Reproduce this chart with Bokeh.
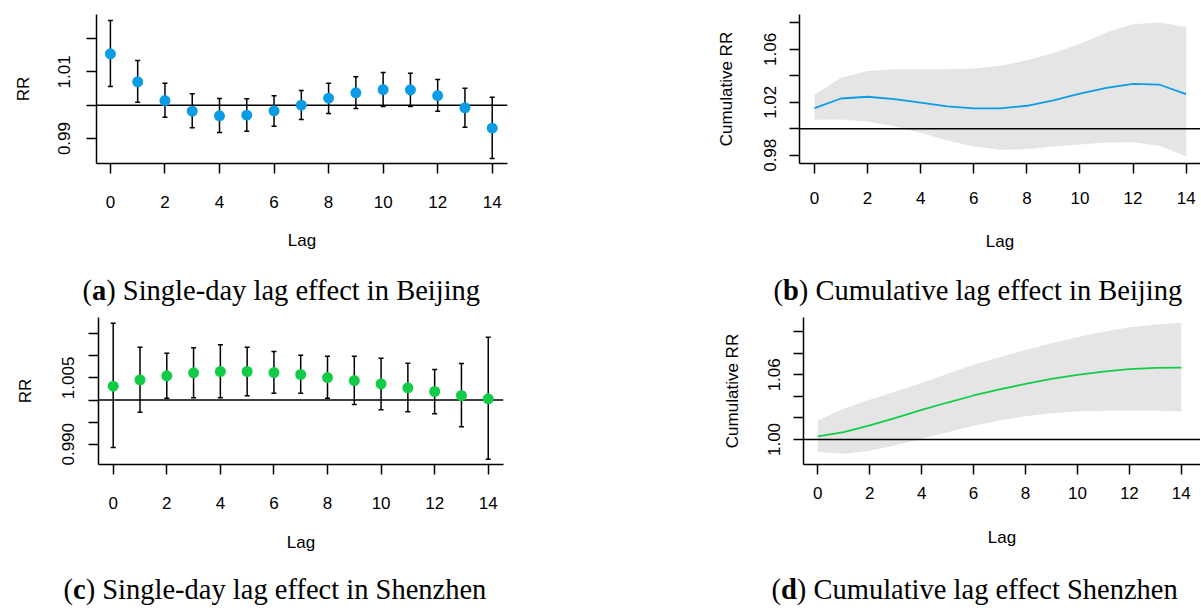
from bokeh.plotting import figure
from bokeh.models import (Span, Whisker, TeeHead, ColumnDataSource, FixedTicker,
                          Label, Range1d, CustomJSTickFormatter)
from bokeh.layouts import column, row
from bokeh.embed import file_html
from bokeh.resources import INLINE

# ---------------- data ----------------
lags = [0, 1, 2, 3, 4, 5, 6, 7, 8, 9, 10, 11, 12, 13, 14]

# (a) single-day lag effect, Beijing
bj_single_rr = [1.0154, 1.0070, 1.0014, 0.9982, 0.9968, 0.9970, 0.9983, 1.0000,
                1.0021, 1.0037, 1.0047, 1.0046, 1.0029, 0.9992, 0.9931]
bj_single_lo = [1.0056, 1.0009, 0.9964, 0.9932, 0.9918, 0.9922, 0.9937, 0.9957,
                0.9975, 0.9990, 0.9996, 0.9996, 0.9982, 0.9934, 0.9840]
bj_single_hi = [1.0254, 1.0134, 1.0066, 1.0034, 1.0020, 1.0019, 1.0028, 1.0044,
                1.0066, 1.0085, 1.0098, 1.0096, 1.0077, 1.0051, 1.0024]

# (b) cumulative lag effect, Beijing
bj_cum_rr = [1.0156, 1.0229, 1.0242, 1.0224, 1.0197, 1.0169, 1.0154, 1.0154,
             1.0174, 1.0214, 1.0265, 1.0310, 1.0340, 1.0333, 1.0262]
bj_cum_lo = [1.0068, 1.0071, 1.0055, 1.0020, 0.9970, 0.9912, 0.9866, 0.9841,
             0.9846, 0.9866, 0.9882, 0.9897, 0.9899, 0.9871, 0.9793]
bj_cum_hi = [1.0257, 1.0386, 1.0436, 1.0449, 1.0449, 1.0449, 1.0456, 1.0476,
             1.0517, 1.0572, 1.0643, 1.0728, 1.0789, 1.0804, 1.0769]

# (c) single-day lag effect, Shenzhen
sz_single_rr = [1.00312, 1.00456, 1.00546, 1.00614, 1.00644, 1.00644, 1.00621, 1.00576,
                1.00508, 1.00440, 1.00365, 1.00275, 1.00192, 1.00102, 1.00026]
sz_single_lo = [0.98927, 0.99725, 1.00041, 1.00049, 1.00049, 1.00094, 1.00154, 1.00154,
                1.00041, 0.99898, 0.99778, 0.99733, 0.99688, 0.99394, 0.98663]
sz_single_hi = [1.01736, 1.01194, 1.01058, 1.01179, 1.01246, 1.01194, 1.01096, 1.01013,
                1.00990, 1.00990, 1.00945, 1.00832, 1.00689, 1.00825, 1.01420]

# (d) cumulative lag effect, Shenzhen
sz_cum_rr = [1.0028, 1.0068, 1.0130, 1.0201, 1.0275, 1.0343, 1.0408, 1.0464,
             1.0516, 1.0562, 1.0599, 1.0630, 1.0652, 1.0664, 1.0667]
sz_cum_lo = [0.9883, 0.9867, 0.9895, 0.9947, 1.0006, 1.0068, 1.0127, 1.0176,
             1.0216, 1.0244, 1.0260, 1.0266, 1.0269, 1.0269, 1.0260]
sz_cum_hi = [1.0176, 1.0284, 1.0368, 1.0445, 1.0525, 1.0609, 1.0692, 1.0763,
             1.0831, 1.0893, 1.0949, 1.0998, 1.1041, 1.1066, 1.1082]

# ticks
x_ticks = [0, 2, 4, 6, 8, 10, 12, 14]
a_yticks = [0.99, 1.00, 1.01, 1.02]
a_ylabels = ["0.99", "", "1.01", ""]
b_yticks = [0.98, 1.00, 1.02, 1.04, 1.06, 1.08]
b_ylabels = ["0.98", "", "1.02", "", "1.06", ""]
c_yticks = [0.990, 0.995, 1.000, 1.005, 1.010, 1.015]
c_ylabels = ["0.990", "", "", "1.005", "", ""]
d_yticks = [1.00, 1.02, 1.04, 1.06, 1.08, 1.10]
d_ylabels = ["1.00", "", "", "1.06", "", ""]

captions = [("a", ") Single-day lag effect in Beijing"),
            ("b", ") Cumulative lag effect in Beijing"),
            ("c", ") Single-day lag effect in Shenzhen"),
            ("d", ") Cumulative lag effect Shenzhen")]

# ---------------- style ----------------
BLUE = "#0B9CE5"
GREEN = "#12CC48"
BAND = "#E5E5E5"
SANS = "Liberation Sans"
SERIF = "Liberation Serif"
FS = "17px"
CAP_FS = 28.5


def make_fig(w, h, borders, xr, yr, yticks, ylabels, ylabel,
             ystand, ylab_stand, xstand, xlab_stand):
    l, r, t, b = borders
    p = figure(width=w, height=h, output_backend="svg", toolbar_location=None,
               title=None,
               x_range=Range1d(*xr), y_range=Range1d(*yr),
               min_border_left=l, min_border_right=r, min_border_top=t,
               min_border_bottom=b)
    p.outline_line_color = None
    p.xgrid.visible = False
    p.ygrid.visible = False
    p.background_fill_color = "white"
    p.border_fill_color = "white"
    p.xaxis.ticker = FixedTicker(ticks=x_ticks)
    p.yaxis.ticker = FixedTicker(ticks=yticks)
    p.yaxis.formatter = CustomJSTickFormatter(
        args=dict(vals=yticks, labs=ylabels),
        code="""
        for (let i = 0; i < vals.length; i++) {
            if (Math.abs(tick - vals[i]) < 1e-9) { return labs[i]; }
        }
        return "";
        """)
    for ax in (p.xaxis[0], p.yaxis[0]):
        ax.axis_line_color = "black"
        ax.axis_line_width = 1.5
        ax.major_tick_line_color = "black"
        ax.major_tick_line_width = 1.5
        ax.major_tick_in = 0
        ax.major_tick_out = 10
        ax.minor_tick_in = 0
        ax.minor_tick_out = 0
        ax.major_label_text_font = SANS
        ax.major_label_text_font_size = FS
        ax.major_label_text_color = "black"
        ax.axis_label_text_font = SANS
        ax.axis_label_text_font_size = FS
        ax.axis_label_text_font_style = "normal"
        ax.axis_label_text_color = "black"
    p.yaxis.major_label_orientation = "vertical"
    p.yaxis.axis_label = ylabel
    p.xaxis.axis_label = "Lag"
    p.yaxis.major_label_standoff = ystand
    p.yaxis.axis_label_standoff = ylab_stand
    p.xaxis.major_label_standoff = xstand
    p.xaxis.axis_label_standoff = xlab_stand
    return p


def caption_fig(w, h, items):
    p = figure(width=w, height=h, output_backend="svg", toolbar_location=None,
               title=None,
               x_range=Range1d(0, w), y_range=Range1d(0, h),
               x_axis_type=None, y_axis_type=None,
               min_border=0, min_border_left=0, min_border_right=0,
               min_border_top=0, min_border_bottom=0)
    p.outline_line_color = None
    p.background_fill_color = "white"
    p.border_fill_color = "white"
    common = dict(text_font=SERIF, text_font_size=f"{CAP_FS}px", text_color="black",
                  text_baseline="middle", text_align="left")
    paren_w = 0.333 * CAP_FS
    for (letter, rest), x, y, bold_em in items:
        p.add_layout(Label(x=x, y=y, text="(", **common))
        p.add_layout(Label(x=x + paren_w, y=y, text=letter, text_font_style="bold", **common))
        p.add_layout(Label(x=x + paren_w + bold_em * CAP_FS, y=y, text=rest, **common))
    return p


def single_panel(p, rr, lo, hi, color):
    src = ColumnDataSource(data=dict(x=lags, rr=rr, lo=lo, hi=hi))
    p.add_layout(Span(location=1.0, dimension="width", line_color="black",
                      line_width=1.5, level="underlay"))
    w = Whisker(source=src, base="x", upper="hi", lower="lo", dimension="height",
                line_color="black", line_width=1.5, level="underlay",
                upper_head=TeeHead(size=5, line_color="black", line_width=1.5),
                lower_head=TeeHead(size=5, line_color="black", line_width=1.5))
    p.add_layout(w)
    p.scatter("x", "rr", source=src, size=11, fill_color=color, line_color=None)


def cum_panel(p, rr, lo, hi, color):
    src = ColumnDataSource(data=dict(x=lags, rr=rr, lo=lo, hi=hi))
    p.varea("x", "lo", "hi", source=src, fill_color=BAND)
    p.line("x", "rr", source=src, line_color=color, line_width=1.8)
    p.add_layout(Span(location=1.0, dimension="width", line_color="black",
                      line_width=1.5))


# row 1 (frames aligned: top 14, bottom 163)
pa = make_fig(600, 270, (96, 93, 14, 107), (-0.51, 14.56), (0.98251, 1.02721),
              a_yticks, a_ylabels, "RR", 16, 23, 22, 20)
single_panel(pa, bj_single_rr, bj_single_lo, bj_single_hi, BLUE)

pb = make_fig(600, 270, (199, 0, 14, 107), (-0.565, 14.54), (0.97378, 1.08636),
              b_yticks, b_ylabels, "Cumulative RR", 13, 26, 18, 25)
cum_panel(pb, bj_cum_rr, bj_cum_lo, bj_cum_hi, BLUE)

cap1 = caption_fig(1200, 40, [(captions[0], 82, 20, 0.5),
                              (captions[1], 773, 20, 0.556)])

# row 2 (frames aligned: top 317, bottom 464)
pc = make_fig(600, 260, (98, 97, 7, 106), (-0.549, 14.57), (0.98543, 1.01864),
              c_yticks, c_ylabels, "RR", 14, 25, 22, 21)
single_panel(pc, sz_single_rr, sz_single_lo, sz_single_hi, GREEN)

pd_ = make_fig(600, 260, (203, 0, 7, 106), (-0.551, 14.74), (0.97682, 1.11312),
               d_yticks, d_ylabels, "Cumulative RR", 13, 24, 12, 26)
cum_panel(pd_, sz_cum_rr, sz_cum_lo, sz_cum_hi, GREEN)

cap2 = caption_fig(1200, 38, [(captions[2], 63, 19, 0.444),
                              (captions[3], 771, 19, 0.556)])

layout = column(row(pa, pb), cap1, row(pc, pd_), cap2)
open("out.html", "w").write(file_html(layout, INLINE))
